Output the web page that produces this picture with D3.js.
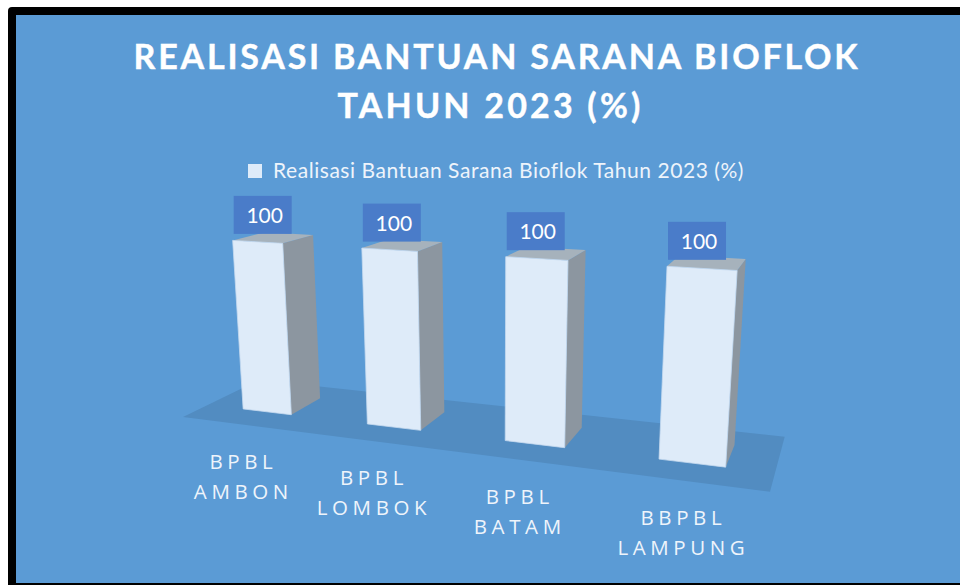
<!doctype html>
<html>
    <head>
        <title>Realisasi Bantuan Sarana Bioflok</title>
        <script src="https://cdn.jsdelivr.net/npm/d3@7"></script>
        <style>
            html, body {
                width: 100%;
                height: 100%;
                margin: 0px;
                padding: 0px;
                background: #fff;
                overflow: hidden;
            }
            svg { display: block; }
        </style>
    </head>
    <body>
        <svg class="svg" width="960" height="585"></svg>
        <script>
            var titleLines = ['REALISASI BANTUAN SARANA BIOFLOK', 'TAHUN 2023 (%)'];
            var seriesName = 'Realisasi Bantuan Sarana Bioflok Tahun 2023 (%)';
            var categories = ['BPBL AMBON', 'BPBL LOMBOK', 'BPBL BATAM', 'BBPBL LAMPUNG'];
            var categoryLines = [['BPBL', 'AMBON'], ['BPBL', 'LOMBOK'], ['BPBL', 'BATAM'], ['BBPBL', 'LAMPUNG']];
            var values = [100, 100, 100, 100];

            var svg = d3.select('svg');

            // chart frame
            svg.append('rect').attr('x', 8).attr('y', 7).attr('width', 960).attr('height', 585).attr('rx', 4).attr('fill', '#000');
            svg.append('rect').attr('x', 16).attr('y', 15).attr('width', 944).attr('height', 568).attr('fill', '#5b9bd5');

            // scales work in floor units (0..1), the camera below takes them to the screen
            var xScale = d3.scaleBand().domain(categories).range([0, 1.004]).paddingInner(0.6).paddingOuter(0.3);
            var zScale = d3.scaleBand().domain([seriesName]).range([0, 1]).padding(0.408).align(0.53);
            var yScale = d3.scaleLinear().domain([0, 100]).range([0, -0.0411]);

            // camera: floor quad on the screen plus the point where the verticals meet
            var floorQuad = [[183, 417], [770, 491.7], [784.7, 436.7], [259, 380]];
            var vanish = [494, 4441];

            function makeCamera(q, v) {
                var sx = q[0][0] - q[1][0] + q[2][0] - q[3][0], sy = q[0][1] - q[1][1] + q[2][1] - q[3][1];
                var dx1 = q[1][0] - q[2][0], dx2 = q[3][0] - q[2][0];
                var dy1 = q[1][1] - q[2][1], dy2 = q[3][1] - q[2][1];
                var det = dx1 * dy2 - dx2 * dy1;
                var g = (sx * dy2 - dx2 * sy) / det, h = (dx1 * sy - sx * dy1) / det;
                var a = q[1][0] - q[0][0] + g * q[1][0], b = q[3][0] - q[0][0] + h * q[3][0];
                var d = q[1][1] - q[0][1] + g * q[1][1], e = q[3][1] - q[0][1] + h * q[3][1];
                return function(u, z, y) {
                    var w = g * u + h * z + 1;
                    // heights shrink a little towards the right, the tops do not follow the floor exactly
                    var t = y * (1 - 0.026 * u);
                    var px = a * u + b * z + q[0][0] + t * v[0];
                    var py = d * u + e * z + q[0][1] + t * v[1];
                    return [px / (w + t), py / (w + t)];
                };
            }
            var project = makeCamera(floorQuad, vanish);
            var poly = d3.line();

            svg.append('path')
                .attr('d', poly([project(0, 0, 0), project(1, 0, 0), project(1, 1, 0), project(0, 1, 0)]) + 'Z')
                .attr('fill', '#528cc1');

            var rows = categories.map(function(c, i) {
                var u0 = xScale(c), u1 = u0 + xScale.bandwidth();
                var z0 = zScale(seriesName), z1 = z0 + zScale.bandwidth();
                var top = yScale(values[i]);
                return {
                    name: c,
                    lines: categoryLines[i],
                    value: values[i],
                    mid: project((u0 + u1) / 2, 0, 0),
                    front: [project(u0, z0, 0), project(u1, z0, 0), project(u1, z0, top), project(u0, z0, top)],
                    side: [project(u1, z0, 0), project(u1, z1, 0), project(u1, z1, top), project(u1, z0, top)],
                    cap: [project(u0, z0, top), project(u1, z0, top), project(u1, z1, top), project(u0, z1, top)]
                };
            });

            var bars = svg.append('g').selectAll('g').data(rows).enter().append('g');
            bars.append('path').attr('d', function(d) { return poly(d.side) + 'Z'; }).attr('fill', '#8c96a0');
            bars.append('path').attr('d', function(d) { return poly(d.cap) + 'Z'; }).attr('fill', '#a6b2bc');
            bars.append('path').attr('d', function(d) { return poly(d.front) + 'Z'; })
                .attr('fill', '#deebf9')
                .attr('stroke', '#c5d9ef')
                .attr('stroke-width', 0.8);

            // value labels sit on the front top left corner
            var tags = svg.append('g').selectAll('g').data(rows).enter().append('g')
                .attr('transform', function(d) {
                    return 'translate(' + (d.front[3][0] + 1) + ',' + (d.front[3][1] - 6.5) + ')';
                });
            tags.append('rect')
                .attr('y', -38)
                .attr('width', 58)
                .attr('height', 38)
                .attr('fill', '#4a7cc9');
            tags.append('text')
                .attr('x', 31)
                .attr('y', -11)
                .attr('text-anchor', 'middle')
                .attr('fill', '#fff')
                .style('font', '21px Lato')
                .text(function(d) { return d.value; });

            // category labels
            var cats = svg.append('g').selectAll('text').data(rows).enter().append('text')
                .attr('text-anchor', 'middle')
                .attr('fill', '#eef4fb')
                .style('font', '20.5px "Open Sans"')
                .style('letter-spacing', '4.6px');
            cats.selectAll('tspan').data(function(d) {
                    return d.lines.map(function(t, i) { return {t: t, i: i, mid: d.mid}; });
                }).enter().append('tspan')
                .attr('x', function(d) { return d.mid[0]; })
                .attr('y', function(d) { return d.mid[1] + 44 + d.i * 30; })
                .text(function(d) { return d.t; });

            // title
            var titleX = [497, 490.5], titleSpacing = [2.8, 3.2];
            svg.append('g').selectAll('text').data(titleLines).enter().append('text')
                .attr('x', function(d, i) { return titleX[i]; })
                .attr('y', function(d, i) { return 69 + i * 49; })
                .attr('text-anchor', 'middle')
                .attr('fill', '#fff')
                .attr('stroke', '#fff')
                .attr('stroke-width', 0.4)
                .style('font', 'bold 34px Lato')
                .style('letter-spacing', function(d, i) { return titleSpacing[i] + 'px'; })
                .text(function(d) { return d; });

            // legend
            svg.append('rect').attr('x', 248).attr('y', 164).attr('width', 14).attr('height', 14).attr('fill', '#deebf9');
            svg.append('text')
                .attr('x', 273)
                .attr('y', 178)
                .attr('fill', '#eef4fb')
                .style('font', '21px Lato')
                .style('letter-spacing', '0.55px')
                .text(seriesName);
        </script>
    </body>
</html>
